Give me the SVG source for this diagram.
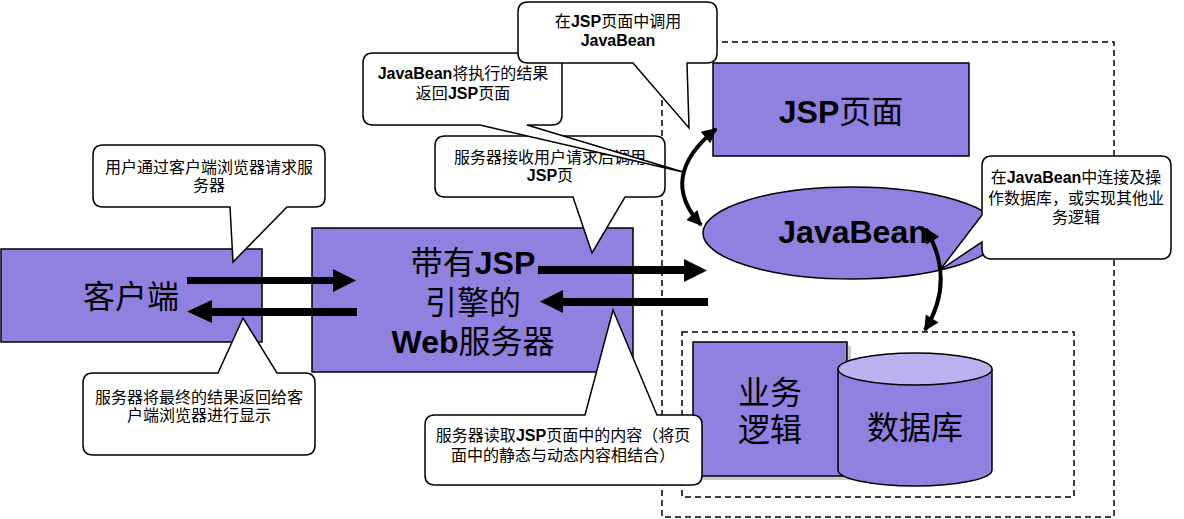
<svg xmlns="http://www.w3.org/2000/svg" width="1184" height="519" viewBox="0 0 1184 519">
<defs>
<style>
.node{fill:#9080E0;stroke:#000;stroke-width:1.5}
.dash{fill:none;stroke:#000;stroke-width:1.5;stroke-dasharray:6,4}
.call{fill:#fff;stroke:#000;stroke-width:1.5;stroke-linejoin:miter}
.big{font-family:"Liberation Sans","Noto Sans CJK SC",sans-serif;font-size:32px;fill:#000;text-anchor:middle}
.ct{font-family:"Liberation Sans","Noto Sans CJK SC",sans-serif;font-size:16px;fill:#000;text-anchor:middle}
.b{font-weight:bold}
.blk{fill:#000}
.crv{fill:none;stroke:#000;stroke-width:4}
</style>
<marker id="ah" viewBox="0 0 10 10" refX="9" refY="5" markerUnits="userSpaceOnUse" markerWidth="17" markerHeight="15" orient="auto-start-reverse">
<path d="M0,0 L10,5 L0,10 z" fill="#000"/>
</marker>
</defs>
<rect width="1184" height="519" fill="#fff"/>

<g id="containers">
<rect class="dash" x="662" y="42" width="452" height="475"/>
<rect class="dash" x="682" y="332" width="392" height="165"/>
</g>

<g id="client">
<rect class="node" x="1" y="249" width="261" height="93"/>
<text class="big" x="131" y="308">客户端</text>
</g>

<g id="server">
<rect class="node" x="312" y="228" width="321" height="144"/>
<text class="big" x="473" y="274">带有<tspan class="b">JSP</tspan></text>
<text class="big" x="473" y="314">引擎的</text>
<text class="big" x="473" y="353"><tspan class="b">Web</tspan>服务器</text>
</g>

<g id="jsp-page">
<rect class="node" x="713" y="63" width="256" height="93"/>
<text class="big" x="841" y="123"><tspan class="b">JSP</tspan>页面</text>
</g>

<g id="javabean">
<ellipse class="node" cx="852" cy="233" rx="149" ry="46"/>
<text class="big b" x="853" y="243" font-size="31">JavaBean</text>
</g>

<g id="business">
<rect x="697" y="346" width="154" height="134" fill="#c8c8c8"/>
<rect class="node" x="693" y="342" width="154" height="134"/>
<text class="big" x="770" y="404">业务</text>
<text class="big" x="770" y="441">逻辑</text>
</g>

<g id="database">
<path class="node" d="M838,369 V470 A77,16 0 0 0 992,470 V369"/>
<ellipse cx="915" cy="369" rx="77" ry="16" fill="#BAB2EE" stroke="#000" stroke-width="1.5"/>
<text class="big" x="915" y="439">数据库</text>
</g>

<g id="callout-request">
<path class="call" d="M103,145 H315 Q325,145 325,155 V197 Q325,207 315,207 H287 L233,262 L230,207 H103 Q93,207 93,197 V155 Q93,145 103,145 Z"/>
<text class="ct" x="209" y="173">用户通过客户端浏览器请求服</text>
<text class="ct" x="209" y="191">务器</text>
</g>

<g id="callout-return">
<path class="call" d="M93,373 H218 L243,318 L277,373 H305 Q315,373 315,383 V445 Q315,455 305,455 H93 Q83,455 83,445 V383 Q83,373 93,373 Z"/>
<text class="ct" x="199" y="403">服务器将最终的结果返回给客</text>
<text class="ct" x="199" y="421">户端浏览器进行显示</text>
</g>

<g id="callout-receive">
<path class="call" d="M445,136 H655 Q665,136 665,146 V187 Q665,197 655,197 H625 L592,253 L573,197 H445 Q435,197 435,187 V146 Q435,136 445,136 Z"/>
<text class="ct" x="550" y="163">服务器接收用户请求后调用</text>
<text class="ct" x="550" y="181"><tspan class="b">JSP</tspan>页</text>
</g>

<g id="callout-bean-return">
<path class="call" d="M373,53 H552 Q562,53 562,63 V115 Q562,125 552,125 H527 L683,172 L480,125 H373 Q363,125 363,115 V63 Q363,53 373,53 Z"/>
<text class="ct" x="463" y="79"><tspan class="b">JavaBean</tspan>将执行的结果</text>
<text class="ct" x="463" y="99">返回<tspan class="b">JSP</tspan>页面</text>
</g>

<g id="callout-call-bean">
<path class="call" d="M528,2 H707 Q717,2 717,12 V53 Q717,63 707,63 H687 L689,128 L633,63 H528 Q518,63 518,53 V12 Q518,2 528,2 Z"/>
<text class="ct" x="618" y="27">在<tspan class="b">JSP</tspan>页面中调用</text>
<text class="ct b" x="618" y="46">JavaBean</text>
</g>

<g id="callout-read">
<path class="call" d="M435,415 H585 L613,310 L657,415 H692 Q702,415 702,425 V475 Q702,485 692,485 H435 Q425,485 425,475 V425 Q425,415 435,415 Z"/>
<text class="ct" x="563" y="441">服务器读取<tspan class="b">JSP</tspan>页面中的内容（将页</text>
<text class="ct" x="563" y="461">面中的静态与动态内容相结合）</text>
</g>

<g id="callout-db">
<path class="call" d="M992,156 H1161 Q1171,156 1171,166 V249 Q1171,259 1161,259 H992 Q982,259 982,249 V242 L940,270 L982,215 V166 Q982,156 992,156 Z"/>
<text class="ct" x="1076" y="183">在<tspan class="b">JavaBean</tspan>中连接及操</text>
<text class="ct" x="1076" y="204">作数据库，或实现其他业</text>
<text class="ct" x="1076" y="223">务逻辑</text>
</g>

<g id="connectors">
<polygon class="blk" points="187,277 333,277 333,269 356,280.5 333,292 333,284 187,284"/>
<polygon class="blk" points="187,311.5 212,300 212,308 357,308 357,316 212,316 212,323"/>
<polygon class="blk" points="538,266 684,266 684,259 707,270.5 684,282 684,274 538,274"/>
<polygon class="blk" points="540,301.5 563,290 563,298 708,298 708,306 563,306 563,313"/>
<path class="crv" d="M716,129 Q657,177 701,225" marker-start="url(#ah)" marker-end="url(#ah)"/>
<path class="crv" d="M926,229 Q956,280 925,330" marker-start="url(#ah)" marker-end="url(#ah)"/>
</g>
</svg>
